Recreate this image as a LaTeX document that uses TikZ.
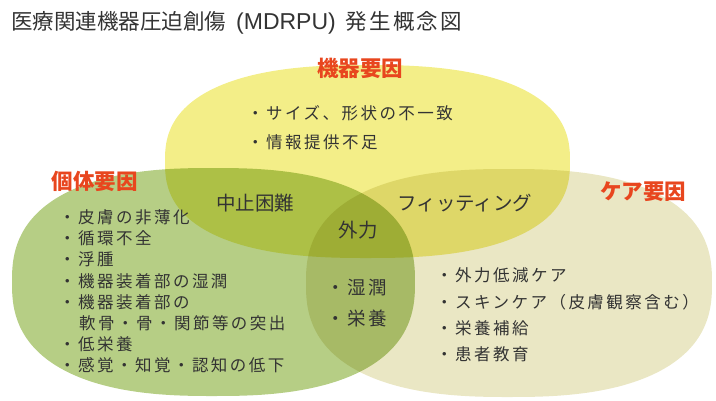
\documentclass[tikz,border=0pt]{standalone}
\usepackage{fontspec}
\setmainfont{Noto Sans CJK JP}
\newfontfamily\jpsp[LetterSpace=15]{Noto Sans CJK JP}
\newfontfamily\jpti[LetterSpace=10]{Noto Sans CJK JP}
\newfontfamily\lat{Liberation Sans}
\definecolor{cyel}{HTML}{F3EE88}
\definecolor{cgrn}{HTML}{B6CE85}
\definecolor{cbge}{HTML}{EAE7C4}
\definecolor{cred}{HTML}{E8461E}
\definecolor{ctxt}{HTML}{333333}
\tikzset{
  heading/.style={inner sep=0pt, text=cred, font=\fontsize{21.5}{24}\selectfont\bfseries},
  item/.style={inner sep=0pt, anchor=west, text=ctxt, font=\jpsp\fontsize{16.5}{20}\selectfont},
  inner/.style={inner sep=0pt, text=ctxt, font=\fontsize{19.5}{22}\selectfont},
}
\begin{document}
\begin{tikzpicture}[x=1pt,y=-1pt]
\useasboundingbox (0,0) rectangle (716,400);
\begin{scope}[blend group=multiply]
  \fill[cyel] plot[domain=2:357,samples=72,smooth cycle]
    ({367.5+202.5*sign(cos(\x))*abs(cos(\x))^0.8},{161.5+96.5*sign(sin(\x))*abs(sin(\x))^0.8});
  \fill[cgrn] plot[domain=2:357,samples=72,smooth cycle]
    ({213.5+201.5*sign(cos(\x))*abs(cos(\x))^0.8},{282+114*sign(sin(\x))*abs(sin(\x))^0.8});
  \fill[cbge] plot[domain=2:357,samples=72,smooth cycle]
    ({509+203*sign(cos(\x))*abs(cos(\x))^0.8},{283+114*sign(sin(\x))*abs(sin(\x))^0.8});
\end{scope}

\node[inner sep=0pt, anchor=west, text=ctxt, font=\fontsize{21.5}{24}\selectfont] (title) at (11,23)
  {医療関連機器圧迫創傷\hspace{10pt}{\lat\fontsize{23}{24}\selectfont(MDRPU)}\hspace{10pt}{\jpti 発生概念図}};

\node[heading] (hdev) at (360,68) {機器要因};
\node[heading] (hind) at (95,181) {個体要因};
\node[heading] (hcare) at (643,192) {ケア要因};

\node[item] (t1) at (247,113) {・サイズ、形状の不一致};
\node[item] (t2) at (247,142) {・情報提供不足};

\node[item] (l1) at (59,217) {・皮膚の非薄化};
\node[item] (l2) at (59,238) {・循環不全};
\node[item] (l3) at (59,259.5) {・浮腫};
\node[item] (l4) at (59,281) {・機器装着部の湿潤};
\node[item] (l5) at (59,302) {・機器装着部の};
\node[item] (l6) at (79,323.5) {軟骨・骨・関節等の突出};
\node[item] (l7) at (59,344) {・低栄養};
\node[item] (l8) at (59,365) {・感覚・知覚・認知の低下};

\node[item] (r1) at (436,275) {・外力低減ケア};
\node[item] (r2) at (436,302) {・スキンケア（皮膚観察含む）};
\node[item] (r3) at (436,328) {・栄養補給};
\node[item] (r4) at (436,354) {・患者教育};

\node[inner] (stop) at (255,203) {中止困難};
\node[inner] (fit) at (465,203) {フィッティング};
\node[inner] (force) at (358,230) {外力};
\node[inner, anchor=west, font=\jpsp\fontsize{18.5}{22}\selectfont] (m1) at (326,288) {・湿潤};
\node[inner, anchor=west, font=\jpsp\fontsize{18.5}{22}\selectfont] (m2) at (326,318) {・栄養};
\end{tikzpicture}
\end{document}
